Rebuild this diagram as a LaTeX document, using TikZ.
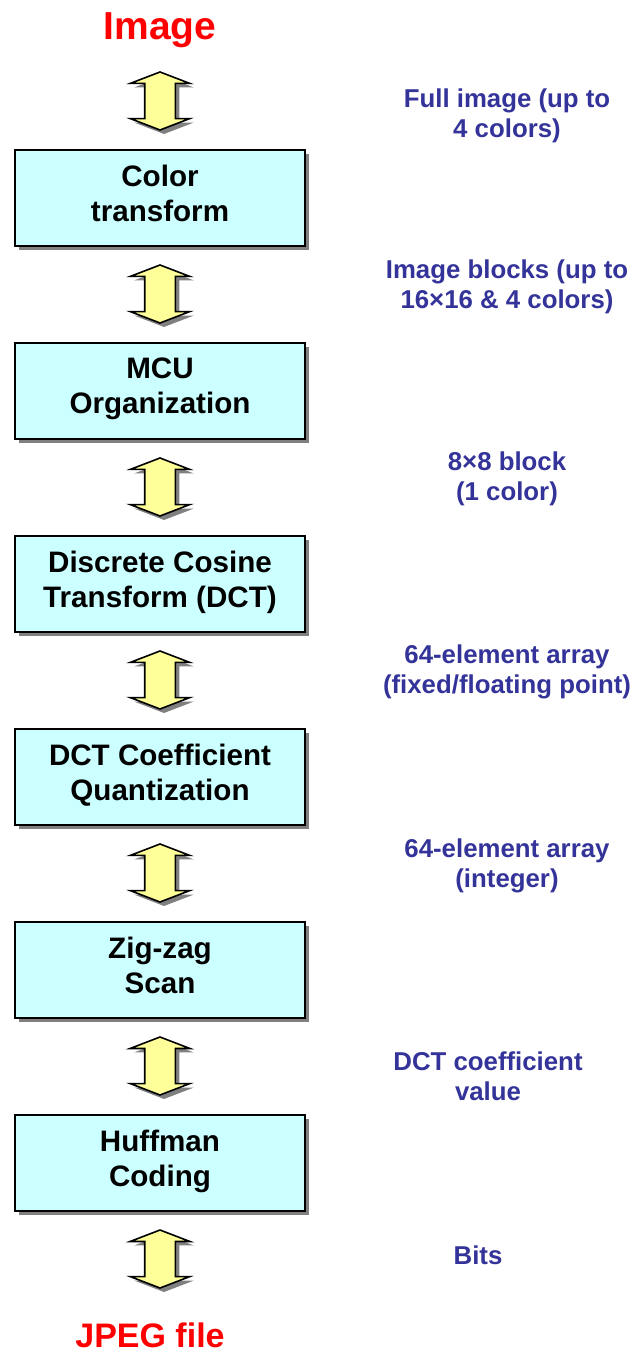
\documentclass[tikz,border=0pt]{standalone}
\usepackage{fontspec}
\setmainfont{Liberation Sans}
\usetikzlibrary{shapes.arrows,shadows}
\definecolor{boxcyan}{RGB}{204,255,255}
\definecolor{arrowyellow}{RGB}{255,255,153}
\definecolor{labelblue}{RGB}{51,51,153}
\tikzset{
  stage/.style={draw,thick,fill=boxcyan,minimum width=145pt,minimum height=48pt,
    align=center,text depth=5pt,font=\fontsize{14.8}{17.5}\selectfont\bfseries,
    drop shadow={shadow xshift=2.2pt,shadow yshift=-2.2pt,fill=black!50,opacity=1}},
  flow/.style={double arrow,draw,thick,fill=arrowyellow,shape border rotate=90,
    minimum height=29pt,minimum width=29pt,inner sep=7.25pt,
    double arrow head extend=7.25pt,double arrow tip angle=138,
    drop shadow={shadow xshift=2pt,shadow yshift=-2pt,fill=black!50,opacity=1}},
  datalabel/.style={align=center,text=labelblue,font=\fontsize{12.9}{15}\selectfont\bfseries},
  endlabel/.style={text=red,inner sep=0pt,font=\bfseries}
}
\begin{document}
\begin{tikzpicture}[x=0.5pt,y=-0.5pt]
        \useasboundingbox (0,0) rectangle (635,1352);
        \node[endlabel,font=\fontsize{19.5}{22}\selectfont\bfseries] (img) at (160,30.5) {Image};
        \foreach \i/\txt in {1/{Color\\transform},2/{MCU\\Organization},3/{Discrete Cosine\\Transform (DCT)},
                4/{DCT Coefficient\\Quantization},5/{Zig-zag\\Scan},6/{Huffman\\Coding}} {
                \node[stage] (s\i) at (160,{198+193*(\i-1)}) {\txt};
            }
        \foreach \i in {1,...,7} {
                \node[flow] (a\i) at (160,{101+193*(\i-1)}) {};
            }
        \node[datalabel] (d1) at (507,116) {Full image (up to\\4 colors)};
        \node[datalabel] (d2) at (507,287) {Image blocks (up to\\16×16 \& 4 colors)};
        \node[datalabel] (d3) at (507,479) {8×8 block\\(1 color)};
        \node[datalabel] (d4) at (507,672) {64-element array\\(fixed/floating point)};
        \node[datalabel] (d5) at (507,866) {64-element array\\(integer)};
        \node[datalabel] (d6) at (488,1076) {DCT coefficient\\value};
        \node[datalabel] (d7) at (478,1255) {Bits};
        \node[endlabel,font=\fontsize{17}{20}\selectfont\bfseries] (jpg) at (150,1335) {JPEG file};
    \end{tikzpicture}
\end{document}
